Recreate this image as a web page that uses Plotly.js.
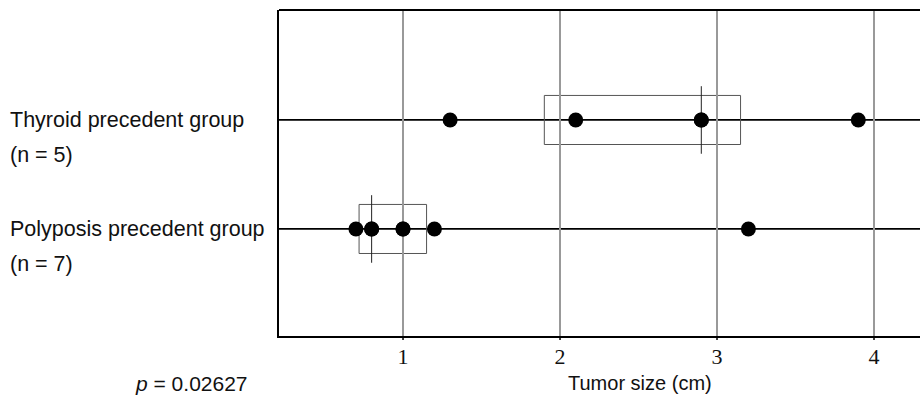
<!DOCTYPE html>
<html>
<head>
<meta charset="utf-8">
<script src="https://cdn.plot.ly/plotly-3.0.1.min.js"></script>
<style>html,body{margin:0;padding:0;background:#fff;overflow:hidden}</style>
</head>
<body>
<div id="chart" style="width:920px;height:395px"></div>
<script>
// ---- data ----
const groupNames = ["Thyroid precedent group", "Polyposis precedent group"];
const groupCounts = ["(n = 5)", "(n = 7)"];
const groupY = [2, 1];
const thyroidValues = [1.3, 2.1, 2.9, 2.9, 3.9];
const polyposisValues = [0.7, 0.8, 0.8, 1.0, 1.0, 1.2, 3.2];
const boxLow = [1.9, 0.72];
const boxHigh = [3.15, 1.15];
const medians = [2.9, 0.8];
const tickValues = [1, 2, 3, 4];
const tickLabels = ["1", "2", "3", "4"];
const xTitle = "Tumor size (cm)";
const pText = "<i>p</i> = 0.02627";

const sans = "Liberation Sans, Arial, sans-serif";
const serif = "Liberation Serif, Times New Roman, serif";

const traces = [
  {x: thyroidValues, y: thyroidValues.map(() => groupY[0]), type: "scatter", mode: "markers",
   marker: {color: "#000", size: 15, line: {width: 0}}, hoverinfo: "x", showlegend: false, cliponaxis: false},
  {x: polyposisValues, y: polyposisValues.map(() => groupY[1]), type: "scatter", mode: "markers",
   marker: {color: "#000", size: 15, line: {width: 0}}, hoverinfo: "x", showlegend: false, cliponaxis: false}
];

const shapes = [];
// group baselines
groupY.forEach(gy => shapes.push({type: "line", xref: "paper", yref: "y", x0: 0, x1: 1, y0: gy, y1: gy,
  line: {color: "#000", width: 1.8}, layer: "below"}));
// boxes and medians
groupY.forEach((gy, i) => {
  shapes.push({type: "rect", xref: "x", yref: "y", x0: boxLow[i], x1: boxHigh[i], y0: gy - 0.225, y1: gy + 0.225,
    line: {color: "#555", width: 1}, fillcolor: "rgba(0,0,0,0)", layer: "below"});
  shapes.push({type: "line", xref: "x", yref: "y", x0: medians[i], x1: medians[i], y0: gy - 0.31, y1: gy + 0.31,
    line: {color: "#222", width: 1}, layer: "below"});
});
// small outside tick marks under the axis
tickValues.forEach(tv => shapes.push({type: "line", xref: "x", yref: "paper", x0: tv, x1: tv, y0: 0, y1: -4 / 326,
  line: {color: "#000", width: 1.5}}));
// top border
shapes.push({type: "line", xref: "paper", yref: "paper", x0: 0, x1: 1, y0: 1, y1: 1, line: {color: "#000", width: 2}});

const annotations = [];
const labX = (8 - 279) / 641;
const labFont = {family: sans, size: 21.5, color: "#111"};
groupY.forEach((gy, i) => {
  annotations.push({xref: "paper", yref: "y", x: labX, y: gy, xanchor: "left", yanchor: "middle",
    text: groupNames[i], showarrow: false, font: labFont});
  annotations.push({xref: "paper", yref: "y", x: labX, y: gy - 0.32, xanchor: "left", yanchor: "middle",
    text: groupCounts[i], showarrow: false, font: labFont});
});
annotations.push({xref: "paper", yref: "paper", x: (640 - 279) / 641, y: -47 / 326, xanchor: "center", yanchor: "middle",
  text: xTitle, showarrow: false, font: {family: sans, size: 20, color: "#111"}});
annotations.push({xref: "paper", yref: "paper", x: (133 - 279) / 641, y: -47 / 326, xanchor: "left", yanchor: "middle",
  text: pText, showarrow: false, font: {family: sans, size: 21, color: "#111"}});

const layout = {
  width: 920, height: 395,
  margin: {l: 279, r: 0, t: 10, b: 59, pad: 0},
  paper_bgcolor: "#fff", plot_bgcolor: "#fff",
  showlegend: false,
  xaxis: {range: [0.21, 4.293], tickvals: tickValues, ticktext: tickLabels,
    showgrid: true, gridcolor: "#999", gridwidth: 1.5, zeroline: false,
    showline: true, linecolor: "#000", linewidth: 2,
    ticks: "",
    tickfont: {family: serif, size: 22, color: "#111"}, fixedrange: true},
  yaxis: {range: [0.018, 3.009], showgrid: false, zeroline: false, showticklabels: false, ticks: "",
    showline: true, linecolor: "#000", linewidth: 2, fixedrange: true},
  shapes: shapes,
  annotations: annotations
};

Plotly.newPlot("chart", traces, layout, {displayModeBar: false, staticPlot: true});
</script>
</body>
</html>
